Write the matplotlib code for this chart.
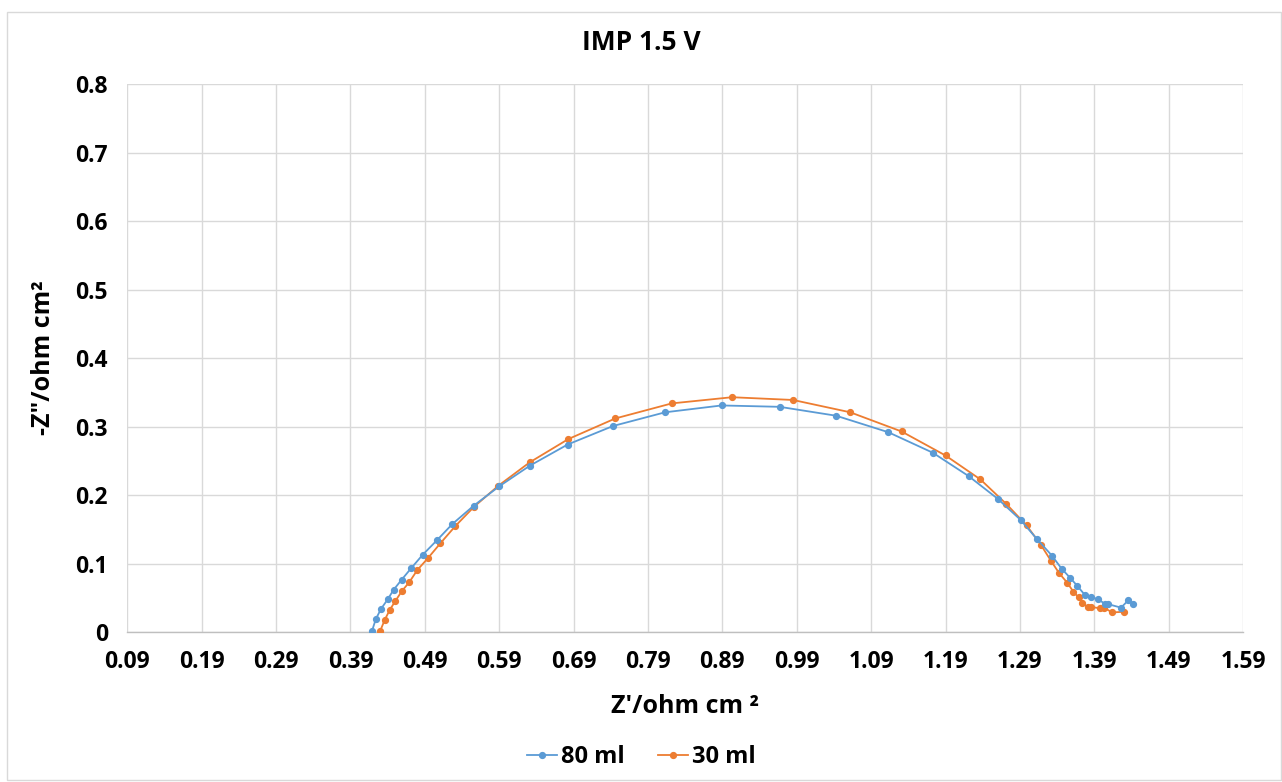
import matplotlib
matplotlib.use("Agg")
import matplotlib.pyplot as plt
from matplotlib.patches import Rectangle
import numpy as np

# ---- data ----
x_80 = [0.419, 0.424, 0.431, 0.440, 0.448, 0.459, 0.472, 0.487, 0.506, 0.527, 0.556,
        0.590, 0.631, 0.682, 0.743, 0.813, 0.889, 0.967, 1.043, 1.113, 1.173, 1.221,
        1.260, 1.291, 1.313, 1.333, 1.346, 1.358, 1.367, 1.377, 1.385, 1.395, 1.404,
        1.409, 1.426, 1.436, 1.442]
y_80 = [0.002, 0.019, 0.034, 0.048, 0.062, 0.077, 0.094, 0.113, 0.134, 0.158, 0.185,
        0.213, 0.243, 0.274, 0.301, 0.321, 0.331, 0.329, 0.316, 0.292, 0.262, 0.228,
        0.195, 0.164, 0.136, 0.112, 0.093, 0.079, 0.068, 0.055, 0.052, 0.048, 0.042,
        0.041, 0.036, 0.047, 0.041]

x_30 = [0.430, 0.436, 0.443, 0.450, 0.459, 0.469, 0.480, 0.494, 0.511, 0.531, 0.556,
        0.589, 0.631, 0.683, 0.746, 0.822, 0.903, 0.985, 1.062, 1.131, 1.190, 1.237,
        1.272, 1.299, 1.318, 1.332, 1.343, 1.354, 1.362, 1.369, 1.374, 1.381, 1.386,
        1.398, 1.403, 1.414, 1.430]
y_30 = [0.002, 0.018, 0.033, 0.045, 0.060, 0.073, 0.091, 0.108, 0.130, 0.155, 0.183,
        0.214, 0.248, 0.282, 0.312, 0.334, 0.343, 0.339, 0.321, 0.293, 0.258, 0.223,
        0.187, 0.156, 0.128, 0.104, 0.086, 0.072, 0.059, 0.051, 0.043, 0.037, 0.037,
        0.035, 0.036, 0.029, 0.030]

series_labels = ["80 ml", "30 ml"]
x_ticks = [0.09, 0.19, 0.29, 0.39, 0.49, 0.59, 0.69, 0.79, 0.89, 0.99, 1.09, 1.19,
           1.29, 1.39, 1.49, 1.59]
y_ticks = [0, 0.1, 0.2, 0.3, 0.4, 0.5, 0.6, 0.7, 0.8]
y_tick_labels = ["0", "0.1", "0.2", "0.3", "0.4", "0.5", "0.6", "0.7", "0.8"]

title = "IMP 1.5 V"
xlabel = "Z'/ohm cm \u00b2"
ylabel = '-Z"/ohm cm\u00b2'

# ---- style ----
plt.rcParams['font.family'] = ['Open Sans', 'DejaVu Sans']
BLUE = "#5B9BD5"
ORANGE = "#ED7D31"
GRID = "#D9D9D9"
FS = 16.5

fig = plt.figure(figsize=(12.82, 7.82), dpi=100)
ax = fig.add_axes([0.0993, 0.1914, 0.9696 - 0.0993, 0.8926 - 0.1914])

ax.plot(x_30, y_30, color=ORANGE, lw=1.3, marker='o', ms=4.2, label=series_labels[1], zorder=3)
ax.plot(x_80, y_80, color=BLUE, lw=1.3, marker='o', ms=4.2, label=series_labels[0], zorder=4)

ax.set_xlim(0.09, 1.59)
ax.set_ylim(0, 0.8)
ax.set_xticks(x_ticks)
ax.set_xticklabels([f"{v:.2f}" for v in x_ticks])
ax.set_yticks(y_ticks)
ax.set_yticklabels(y_tick_labels)
ax.grid(True, color=GRID, lw=1.0, zorder=0)
ax.set_axisbelow(True)
for s in ['top', 'right', 'left']:
    ax.spines[s].set_visible(False)
ax.spines['bottom'].set_color("#BFBFBF")
ax.spines['bottom'].set_linewidth(1.0)
ax.tick_params(axis='x', length=0, labelsize=FS, pad=13)
ax.tick_params(axis='y', length=0, labelsize=FS, pad=14)
for lab in ax.get_xticklabels() + ax.get_yticklabels():
    lab.set_fontweight('bold')

ax.set_xlabel(xlabel, fontsize=FS + 1.5, fontweight='bold', labelpad=14)
ax.set_ylabel(ylabel, fontsize=FS + 1.5, fontweight='bold', labelpad=14)

fig.text(0.5, 1 - 43 / 782, title, ha='center', va='center', fontsize=FS + 2.5, fontweight='bold')

handles, labels = ax.get_legend_handles_labels()
leg = fig.legend(handles[::-1], labels[::-1], loc='center', bbox_to_anchor=(0.5, 1 - 757 / 782),
                 ncol=2, frameon=False, prop={'size': FS + 0.5, 'weight': 'bold'},
                 handlelength=1.3, handletextpad=0.15, columnspacing=1.4)

fig.patches.append(Rectangle((6.5 / 1282, 0.002), 1 - 8 / 1282, 1 - 11.5 / 782 - 0.002,
                             transform=fig.transFigure, fill=False, edgecolor="#D9D9D9", lw=1.0))

fig.savefig("out.png", dpi=100, facecolor='white')
